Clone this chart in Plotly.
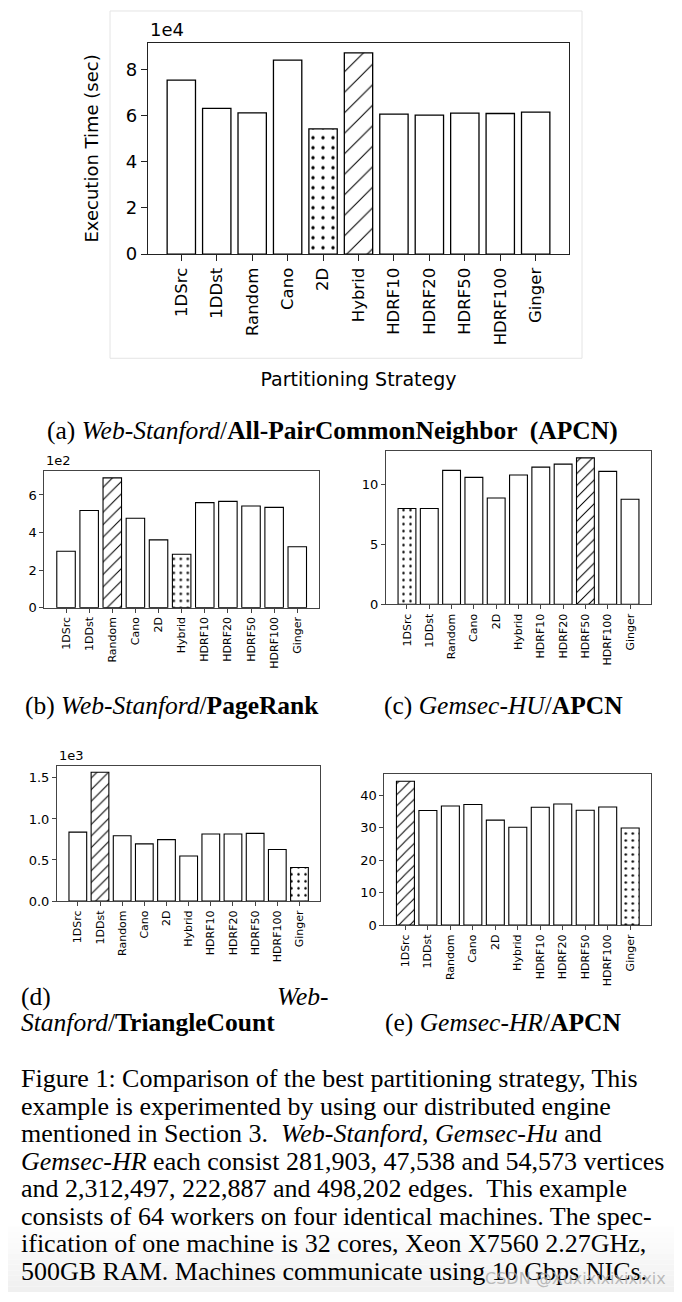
import plotly.graph_objects as go

# page body has an 8px margin, so the figure is drawn 8px smaller and coordinates shifted
OFF = 8
W, H = 682 - OFF, 1302 - OFF

categories = ["1DSrc", "1DDst", "Random", "Cano", "2D", "Hybrid",
              "HDRF10", "HDRF20", "HDRF50", "HDRF100", "Ginger"]

# execution times (sec)
apcn_web_stanford = [75400, 63100, 61200, 84000, 54200, 87200, 60600, 60200, 61100, 60900, 61500]
pagerank_web_stanford = [300, 517, 691, 476, 361, 284, 559, 566, 541, 534, 324]
apcn_gemsec_hu = [7.98, 7.98, 11.15, 10.57, 8.85, 10.77, 11.42, 11.67, 12.19, 11.07, 8.75]
trianglecount_web_stanford = [840, 1569, 796, 696, 748, 548, 816, 816, 824, 628, 408]
apcn_gemsec_hr = [44.26, 35.26, 36.66, 37.08, 32.3, 30.1, 36.26, 37.27, 35.35, 36.35, 29.88]

# hatch per bar: "/" = worst strategy, "." = best strategy
hatch_a = ["", "", "", "", ".", "/", "", "", "", "", ""]
hatch_b = ["", "", "/", "", "", ".", "", "", "", "", ""]
hatch_c = [".", "", "", "", "", "", "", "", "/", "", ""]
hatch_d = ["", "/", "", "", "", "", "", "", "", "", "."]
hatch_e = ["/", "", "", "", "", "", "", "", "", "", "."]

scale_a, scale_b, scale_c, scale_d, scale_e = 1e4, 1e2, 1, 1e3, 1
exp_labels = ["1e4", "1e2", "", "1e3", ""]
ytick_vals = [[0, 2, 4, 6, 8], [0, 2, 4, 6], [0, 5, 10], [0, 0.5, 1.0, 1.5], [0, 10, 20, 30, 40]]
ytick_text = [["0", "2", "4", "6", "8"], ["0", "2", "4", "6"], ["0", "5", "10"],
              ["0.0", "0.5", "1.0", "1.5"], ["0", "10", "20", "30", "40"]]

def X(px):
    return (px - OFF) / W

def Y(py):
    return 1 - (py - OFF) / H

# panel boxes in page pixels: left, right, top, bottom
boxes = [(148, 569, 43, 256), (44.3, 319, 475, 612.3), (386, 651, 454, 609),
         (57, 320.3, 771.7, 908), (384.3, 651.3, 780, 932.3)]

series = [apcn_web_stanford, pagerank_web_stanford, apcn_gemsec_hu,
          trianglecount_web_stanford, apcn_gemsec_hr]
scales = [scale_a, scale_b, scale_c, scale_d, scale_e]
hatches = [hatch_a, hatch_b, hatch_c, hatch_d, hatch_e]
hatch_size = [(14.5, 10), (8.8, 7), (8.4, 7), (8.2, 7), (7.8, 7)]

fig = go.Figure()
layout = {}
for i in range(5):
    n = "" if i == 0 else str(i + 1)
    vals = [v / scales[i] for v in series[i]]
    big = i == 0
    sl, sd = hatch_size[i]
    sizes = [sl if h == "/" else sd for h in hatches[i]]
    sol = [(1.05 / sl) if h == "/" else (0.09 if big else 0.1) for h in hatches[i]]
    fig.add_trace(go.Bar(
        x=categories, y=vals, width=0.8,
        xaxis="x" + n, yaxis="y" + n, showlegend=False,
        marker=dict(color="white",
                    line=dict(color="black", width=1.3 if big else 1.1),
                    pattern=dict(shape=hatches[i], size=sizes, solidity=sol,
                                 fgcolor="black", bgcolor="white", fillmode="replace")),
    ))
    l, r, t, b = boxes[i]
    frame_col = "#222" if big else "#444"
    layout["xaxis" + n] = dict(
        domain=[X(l), X(r)], anchor="y" + n, type="category",
        range=[-0.94, len(categories) - 1 + 0.94],
        showline=True, mirror=True, linecolor=frame_col, linewidth=1.2 if big else 1,
        ticks="outside", ticklen=6 if big else 4, tickcolor=frame_col, tickwidth=1,
        tickangle=-90, showgrid=False, zeroline=False,
        tickfont=dict(family="DejaVu Sans", size=16.5 if big else 11, color="black"),
    )
    layout["yaxis" + n] = dict(
        domain=[Y(b), Y(t)], anchor="x" + n,
        range=[0, max(vals) * 1.05],
        showline=True, mirror=True, linecolor=frame_col, linewidth=1.2 if big else 1,
        ticks="outside", ticklen=6 if big else 4, tickcolor=frame_col, tickwidth=1,
        tickvals=ytick_vals[i], ticktext=ytick_text[i],
        showgrid=False, zeroline=False,
        tickfont=dict(family="DejaVu Sans", size=18 if big else 13, color="black"),
    )

layout["xaxis"]["title"] = dict(text="Partitioning Strategy",
                                font=dict(family="DejaVu Sans", size=19, color="black"),
                                standoff=28)
layout["yaxis"]["title"] = dict(text="Execution Time (sec)",
                                font=dict(family="DejaVu Sans", size=18, color="black"),
                                standoff=22)

annotations = []
for i in range(5):
    if exp_labels[i]:
        l, r, t, b = boxes[i]
        annotations.append(dict(text=exp_labels[i], xref="paper", yref="paper",
                                x=X(l), y=Y(t - 1), xanchor="left", yanchor="bottom",
                                showarrow=False,
                                font=dict(family="DejaVu Sans", size=18 if i == 0 else 13,
                                          color="black")))

serif = "Liberation Serif"
cap_font = dict(family=serif, size=25.5, color="black")
subcaps = [
    ("(a) <i>Web-Stanford</i>/<b>All-PairCommonNeighbor  (APCN)</b>", 332, 434, "center"),
    ("(b) <i>Web-Stanford</i>/<b>PageRank</b>", 172, 711, "center"),
    ("(c) <i>Gemsec-HU</i>/<b>APCN</b>", 503, 711, "center"),
    ("(e) <i>Gemsec-HR</i>/<b>APCN</b>", 503, 1030, "center"),
]
for txt, cx, cy, anc in subcaps:
    annotations.append(dict(text=txt, xref="paper", yref="paper", x=X(cx), y=Y(cy),
                            xanchor=anc, yanchor="middle", showarrow=False, font=cap_font))
annotations.append(dict(text="(d)", xref="paper", yref="paper", x=X(19), y=Y(1004),
                        xanchor="left", yanchor="middle", showarrow=False, font=cap_font))
annotations.append(dict(text="<i>Web-</i>", xref="paper", yref="paper", x=X(330), y=Y(1004),
                        xanchor="right", yanchor="middle", showarrow=False, font=cap_font))
annotations.append(dict(text="<i>Stanford</i>/<b>TriangleCount</b>", xref="paper", yref="paper",
                        x=X(19), y=Y(1030), xanchor="left", yanchor="middle",
                        showarrow=False, font=cap_font))

caption_lines = [
    "Figure 1: Comparison of the best partitioning strategy, This",
    "example is experimented by using our distributed engine",
    "mentioned in Section 3.  <i>Web-Stanford</i>, <i>Gemsec-Hu</i> and",
    "<i>Gemsec-HR</i> each consist 281,903, 47,538 and 54,573 vertices",
    "and 2,312,497, 222,887 and 498,202 edges.  This example",
    "consists of 64 workers on four identical machines. The spec-",
    "ification of one machine is 32 cores, Xeon X7560 2.27GHz,",
    "500GB RAM. Machines communicate using 10 Gbps NICs.",
]
for k, line in enumerate(caption_lines):
    annotations.append(dict(text=line, xref="paper", yref="paper", x=X(19),
                            y=Y(1087 + k * 27.7), xanchor="left", yanchor="middle",
                            showarrow=False, font=dict(family=serif, size=26, color="black")))

annotations.append(dict(text="CSDN @Xuxixixixixixix", xref="paper", yref="paper",
                        x=X(668), y=Y(1288), xanchor="right", yanchor="middle",
                        showarrow=False,
                        font=dict(family="DejaVu Sans", size=16, color="rgba(170,170,170,0.8)")))

shapes = [dict(type="rect", xref="paper", yref="paper", x0=X(110), x1=X(582),
               y0=Y(361), y1=Y(11), line=dict(color="#e4e4e4", width=1), layer="below")]
nb = 12
for k in range(nb):
    y0p = 1236 + k * (1302 - 1236) / nb
    y1p = 1236 + (k + 1) * (1302 - 1236) / nb
    g = int(255 - (k + 1) * 1.2)
    shapes.append(dict(type="rect", xref="paper", yref="paper", x0=X(0), x1=1,
                       y0=Y(y1p), y1=Y(y0p), line=dict(width=0),
                       fillcolor=f"rgb({g},{g},{g})", layer="below"))

fig.update_layout(width=W, height=H, margin=dict(l=0, r=0, t=0, b=0),
                  paper_bgcolor="white", plot_bgcolor="white", bargap=0.2,
                  annotations=annotations, shapes=shapes, **layout)

fig.write_html("out.html")
